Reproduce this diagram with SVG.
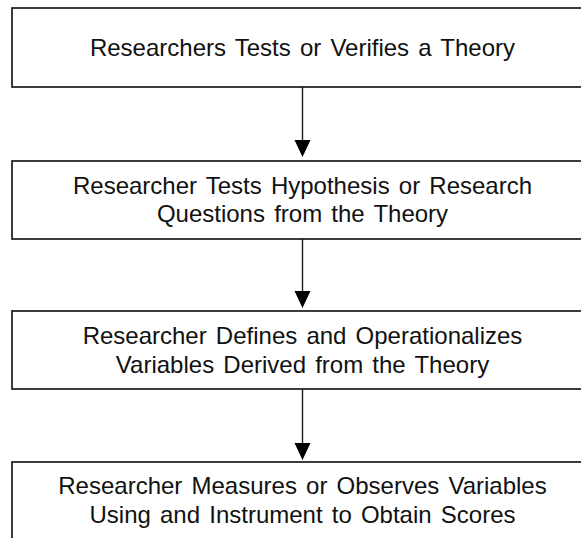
<svg xmlns="http://www.w3.org/2000/svg" width="581" height="538" viewBox="0 0 581 538">
<defs>
<style>
.box{fill:#fff;stroke:#1a1a1a;stroke-width:1.7}
.lbl{font-family:"Liberation Sans",Arial,sans-serif;font-size:24px;fill:#111;text-anchor:middle;word-spacing:2.5px}
.con{stroke:#1a1a1a;stroke-width:1.4;fill:none}
.head{fill:#000}
</style>
</defs>
<rect width="581" height="538" fill="#fff"/>
<g id="connectors">
<line class="con" x1="302.5" y1="87" x2="302.5" y2="141"/>
<polygon class="head" points="294.5,140 310.5,140 302.5,157"/>
<line class="con" x1="302.5" y1="239" x2="302.5" y2="292"/>
<polygon class="head" points="294.5,291 310.5,291 302.5,308"/>
<line class="con" x1="302.5" y1="389" x2="302.5" y2="444"/>
<polygon class="head" points="294.5,443 310.5,443 302.5,460"/>
</g>
<g id="node1">
<rect class="box" x="12" y="8" width="581" height="79"/>
<text class="lbl" x="302.5" y="56">Researchers Tests or Verifies a Theory</text>
</g>
<g id="node2">
<rect class="box" x="12" y="161" width="581" height="78"/>
<text class="lbl" x="302.5" y="194">Researcher Tests Hypothesis or Research</text>
<text class="lbl" x="302.5" y="222">Questions from the Theory</text>
</g>
<g id="node3">
<rect class="box" x="12" y="311" width="581" height="78"/>
<text class="lbl" x="302.5" y="344">Researcher Defines and Operationalizes</text>
<text class="lbl" x="302.5" y="373">Variables Derived from the Theory</text>
</g>
<g id="node4">
<rect class="box" x="12" y="462" width="581" height="100"/>
<text class="lbl" x="302.5" y="494">Researcher Measures or Observes Variables</text>
<text class="lbl" x="302.5" y="523">Using and Instrument to Obtain Scores</text>
</g>
</svg>
